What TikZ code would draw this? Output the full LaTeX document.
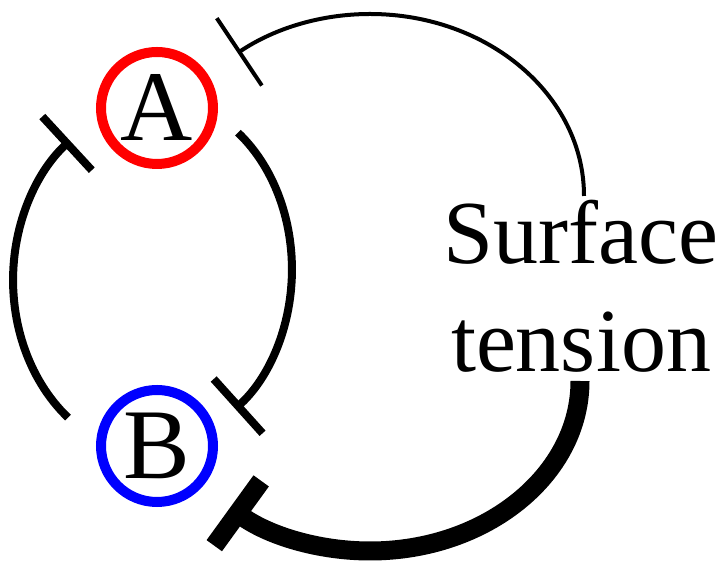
\documentclass[tikz,border=0pt]{standalone}
\usepackage{fontspec}
\setmainfont{Liberation Serif}
\usetikzlibrary{arrows.meta}
\begin{document}
\begin{tikzpicture}[x=1pt,y=1pt,
  species/.style={circle, line width=10pt, minimum size=112pt, inner sep=0pt,
    font=\fontsize{100}{100}\selectfont},
  medium/.style={line width=8pt, -{Bar[width=73pt]}},
  thinline/.style={line width=4pt, -{Bar[width=81pt]}},
  thickline/.style={line width=19pt, -{Bar[width=80pt]}}]
\useasboundingbox (0,0) rectangle (728,561);
\node[species, draw=red] (A) at (157,453) {A};
\node[species, draw=blue] (B) at (157,115) {B};
\node[align=center, anchor=base, font=\fontsize{90}{108.7}\selectfont] (S) at (581,189) {Surface\\tension};
% free ends of the connectors
\coordinate (BtoA) at (68,143.4);
\coordinate (AtoB) at (238,428.3);
\coordinate (StoA) at (584,365);
\coordinate (StoB) at (580,180);
\draw[medium] (BtoA) arc[start angle=231.8, end angle=127.2, x radius=144, y radius=175];
\draw[medium] (AtoB) arc[start angle=53.1, end angle=-54.6, x radius=135, y radius=171];
\draw[thinline] (StoA) arc[start angle=0, end angle=128.2, x radius=214, y radius=182];
\draw[thickline] (StoB) arc[start angle=0, end angle=-131.8, x radius=210, y radius=170];
\end{tikzpicture}
\end{document}
